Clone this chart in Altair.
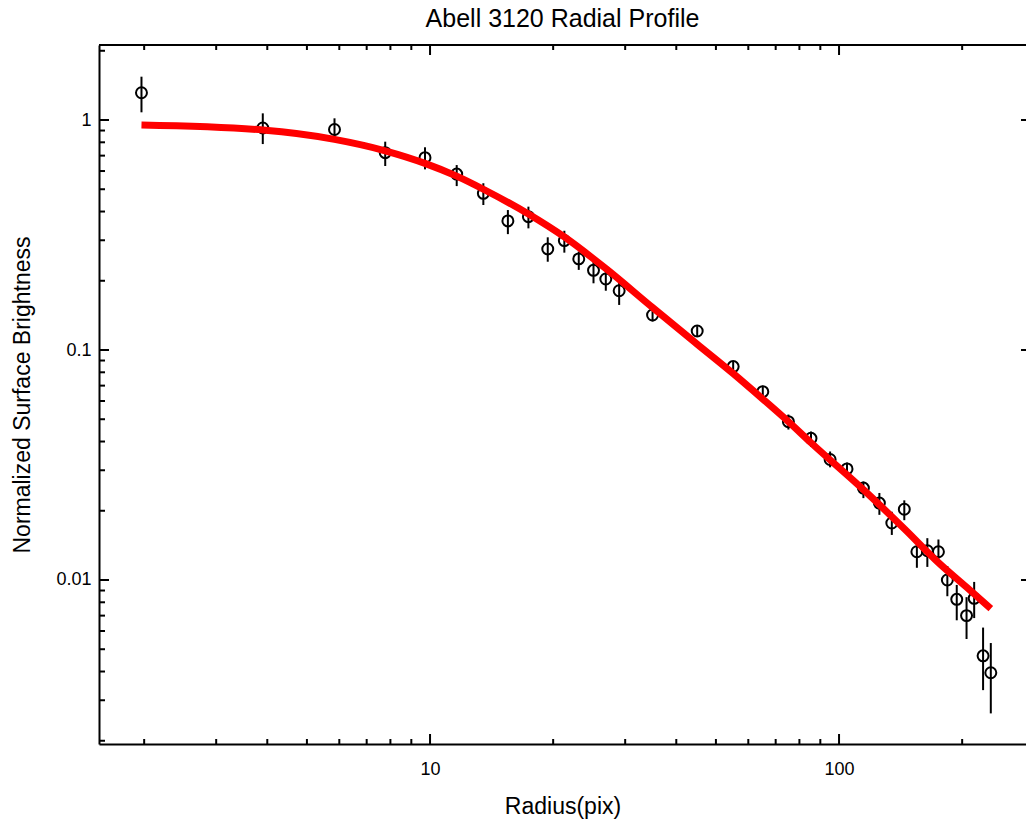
import altair as alt
import pandas as pd

# ---- data ----
radius = [1.97, 3.90, 5.84, 7.77, 9.72, 11.62, 13.5, 15.5, 17.4, 19.4, 21.3, 23.1,
          25.1, 26.9, 29.0, 35.0, 45.0, 55.1, 65.1, 75.2, 85.4, 95.1, 104.6, 114.7,
          125.5, 134.6, 144.4, 155.0, 164.4, 175.0, 184.0, 194.0, 205.0, 214.0, 225.0, 235.0]
brightness = [1.314, 0.923, 0.909, 0.721, 0.686, 0.582, 0.480, 0.364, 0.380, 0.275, 0.299, 0.249,
              0.222, 0.2035, 0.181, 0.142, 0.121, 0.0847, 0.0659, 0.0488, 0.0413, 0.0334, 0.0304, 0.0251,
              0.0216, 0.0177, 0.0203, 0.01327, 0.0134, 0.01327, 0.0100, 0.00824, 0.0070, 0.00832, 0.00468, 0.00395]
err_high = [1.543, 1.069, 1.017, 0.805, 0.761, 0.637, 0.531, 0.406, 0.420, 0.309, 0.330, 0.268,
            0.242, 0.223, 0.198, 0.149, 0.127, 0.0895, 0.0700, 0.0524, 0.0442, 0.0362, 0.0324, 0.0268,
            0.0239, 0.0198, 0.0222, 0.0150, 0.0152, 0.0150, 0.0115, 0.00952, 0.00842, 0.00981, 0.00621, 0.00532]
err_low = [1.080, 0.786, 0.818, 0.631, 0.610, 0.516, 0.427, 0.319, 0.338, 0.242, 0.265, 0.223,
           0.195, 0.181, 0.157, 0.133, 0.114, 0.0792, 0.0619, 0.0451, 0.0379, 0.0309, 0.0279, 0.0227,
           0.0192, 0.0157, 0.0182, 0.0113, 0.0114, 0.0123, 0.0085, 0.00668, 0.00554, 0.00683, 0.00332, 0.00263]

fit_radius = [1.97, 3.90, 5.84, 7.77, 9.72, 11.62, 13.5, 17.4, 21.3, 26.9, 35.0, 45.0,
              55.1, 65.1, 75.2, 85.4, 114.7, 144.4, 175.0, 205.0, 235.0]
fit_value = [0.951, 0.905, 0.824, 0.735, 0.648, 0.570, 0.500, 0.390, 0.310, 0.226, 0.153, 0.106,
             0.079, 0.0612, 0.0488, 0.0395, 0.0247, 0.0167, 0.0119, 0.0093, 0.0075]

x_major_ticks = [10, 100]
x_minor_ticks = [2, 3, 4, 5, 6, 7, 8, 9, 20, 30, 40, 50, 60, 70, 80, 90, 200]
y_major_ticks = [1, 0.1, 0.01]
y_minor_ticks = [0.002, 0.003, 0.004, 0.005, 0.006, 0.007, 0.008, 0.009,
                 0.02, 0.03, 0.04, 0.05, 0.06, 0.07, 0.08, 0.09,
                 0.2, 0.3, 0.4, 0.5, 0.6, 0.7, 0.8, 0.9, 2]

X_DOMAIN = [1.551, 286.5]
Y_DOMAIN = [0.001936, 2.119]
W, H = 927, 699
FONT = "Liberation Sans"

pts = pd.DataFrame({"r": radius, "b": brightness, "hi": err_high, "lo": err_low})
fit = pd.DataFrame({"r": fit_radius, "b": fit_value})
xmaj = pd.DataFrame({"v": x_major_ticks})
xmin = pd.DataFrame({"v": x_minor_ticks})
ymaj = pd.DataFrame({"v": y_major_ticks})
ymin = pd.DataFrame({"v": y_minor_ticks})

xs = alt.Scale(type="log", domain=X_DOMAIN, nice=False)
ys = alt.Scale(type="log", domain=Y_DOMAIN, nice=False)

x_axis = alt.Axis(values=x_major_ticks, ticks=False, grid=False, domain=True, orient="bottom",
                  domainColor="black", domainWidth=2, labelFont=FONT, labelFontSize=18,
                  labelColor="black", labelPadding=16, title="Radius(pix)", titleFont=FONT,
                  titleFontSize=23, titleFontWeight="normal", titleColor="black", titlePadding=17,
                  format="~g")
y_axis = alt.Axis(values=y_major_ticks, ticks=False, grid=False, domain=True, orient="left",
                  domainColor="black", domainWidth=2, labelFont=FONT, labelFontSize=18,
                  labelColor="black", labelPadding=8, title="Normalized Surface Brightness",
                  titleFont=FONT, titleFontSize=23, titleFontWeight="normal", titleColor="black",
                  titlePadding=21, format="~g")

def X(field):
    return alt.X(field, scale=xs, axis=x_axis)

def Y(field):
    return alt.Y(field, scale=ys, axis=y_axis)

errbars = alt.Chart(pts).mark_rule(color="black", strokeWidth=2).encode(
    x=X("r:Q"), y=Y("lo:Q"), y2="hi:Q",
)
circles = alt.Chart(pts).mark_point(shape="circle", filled=False, color="black",
                                    strokeWidth=2, size=120, opacity=1).encode(
    x=X("r:Q"), y=Y("b:Q"),
)
line = alt.Chart(fit).mark_line(color="#ff0000", strokeWidth=7, interpolate="monotone").encode(
    x=X("r:Q"), y=Y("b:Q"),
)

def xticks(df, y0, y1):
    return alt.Chart(df).mark_rule(color="black", strokeWidth=2).encode(
        x=X("v:Q"), y=alt.value(y0), y2=alt.value(y1))

def yticks(df, x0, x1):
    return alt.Chart(df).mark_rule(color="black", strokeWidth=2).encode(
        y=Y("v:Q"), x=alt.value(x0), x2=alt.value(x1))

top_border = alt.Chart(xmaj).mark_rule(color="black", strokeWidth=2).encode(
    x=alt.value(0), x2=alt.value(W), y=alt.value(0))

ticks = [
    xticks(xmaj, H, H - 10), xticks(xmin, H, H - 5),
    xticks(xmaj, 0, 10), xticks(xmin, 0, 5),
    yticks(ymaj, 0, 10), yticks(ymin, 0, 6),
    yticks(ymaj, W, W - 5),
]

chart = alt.layer(errbars, circles, *ticks, top_border, line).properties(
    width=W, height=H,
    title=alt.Title("Abell 3120 Radial Profile", font=FONT, fontSize=25,
                    fontWeight="normal", color="black", offset=12),
    autosize=alt.AutoSizeParams(type="none"),
    padding={"left": 99, "top": 45, "right": 0, "bottom": 84},
    background="white",
).configure_view(stroke=None)

chart.save("out.html", embed_options={"renderer": "svg", "actions": False})
